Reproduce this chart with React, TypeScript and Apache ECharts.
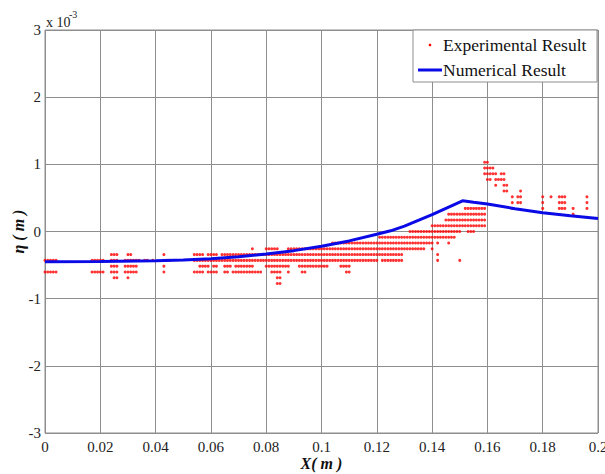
import React, { useEffect, useRef } from "react";
import * as echarts from "echarts";

// x axis (m), y axis in units of 1e-3 m
const xTicks = [0, 0.02, 0.04, 0.06, 0.08, 0.1, 0.12, 0.14, 0.16, 0.18, 0.2];
const yTicks = [-3, -2, -1, 0, 1, 2, 3];

// Numerical result (blue line)
const lineX = [0, 0.02, 0.04, 0.05, 0.06, 0.07, 0.08, 0.09, 0.1, 0.11, 0.12, 0.125, 0.13, 0.135, 0.14, 0.145, 0.151, 0.155, 0.16, 0.17, 0.18, 0.19, 0.2];
const lineY = [-0.45, -0.445, -0.435, -0.425, -0.405, -0.375, -0.335, -0.285, -0.22, -0.14, -0.04, 0.01, 0.08, 0.165, 0.25, 0.345, 0.457, 0.435, 0.41, 0.34, 0.28, 0.235, 0.195];

// Experimental result: rows of dots sampled every 1 mm
// [eta (1e-3 m), x start (mm), x end (mm)]
const expRuns: [number, number, number][] = [
  [1.03, 159, 160],
  [0.945, 159, 162],
  [0.86, 159, 163], [0.86, 165, 166],
  [0.774, 160, 161], [0.774, 163, 166],
  [0.688, 163, 163], [0.688, 166, 167],
  [0.602, 166, 167], [0.602, 172, 172],
  [0.516, 169, 169], [0.516, 171, 172], [0.516, 180, 180], [0.516, 183, 183], [0.516, 186, 188], [0.516, 196, 196],
  [0.43, 169, 169], [0.43, 171, 172], [0.43, 180, 180], [0.43, 186, 188], [0.43, 196, 196],
  [0.344, 152, 159], [0.344, 169, 169], [0.344, 180, 180], [0.344, 186, 188], [0.344, 191, 191], [0.344, 196, 196],
  [0.258, 146, 159], [0.258, 191, 191],
  [0.172, 145, 159],
  [0.086, 140, 159],
  [0, 132, 150], [0, 153, 155],
  [-0.086, 121, 148],
  [-0.172, 104, 140], [-0.172, 142, 142], [-0.172, 146, 146],
  [-0.258, 75, 75], [-0.258, 80, 84], [-0.258, 88, 137], [-0.258, 140, 140],
  [-0.344, 24, 26], [-0.344, 30, 31], [-0.344, 43, 43], [-0.344, 54, 57], [-0.344, 59, 62], [-0.344, 64, 121], [-0.344, 122, 129], [-0.344, 142, 142],
  [-0.43, 0, 4], [-0.43, 17, 21], [-0.43, 24, 26], [-0.43, 29, 34], [-0.43, 36, 36], [-0.43, 37, 37], [-0.43, 39, 39], [-0.43, 43, 45], [-0.43, 54, 120], [-0.43, 122, 127], [-0.43, 128, 129], [-0.43, 142, 142], [-0.43, 150, 150],
  [-0.516, 24, 26], [-0.516, 29, 33], [-0.516, 43, 43], [-0.516, 56, 59], [-0.516, 61, 62], [-0.516, 65, 67], [-0.516, 69, 75], [-0.516, 80, 88], [-0.516, 92, 99], [-0.516, 100, 102], [-0.516, 107, 110],
  [-0.602, 0, 4], [-0.602, 17, 21], [-0.602, 24, 26], [-0.602, 29, 33], [-0.602, 43, 43], [-0.602, 54, 57], [-0.602, 59, 62], [-0.602, 65, 66], [-0.602, 68, 69], [-0.602, 70, 74], [-0.602, 75, 78], [-0.602, 82, 85], [-0.602, 88, 88], [-0.602, 93, 94], [-0.602, 109, 110],
  [-0.688, 25, 26], [-0.688, 30, 30], [-0.688, 84, 85],
  [-0.774, 84, 85],
];

const serif = "'Liberation Serif', 'Times New Roman', serif";

export default function App() {
  const ref = useRef<HTMLDivElement>(null);
  useEffect(() => {
    const chart = echarts.init(ref.current!, null, { renderer: "svg" });
    const expData: number[][] = [];
    expRuns.forEach(([eta, a, b]) => {
      for (let mm = a; mm <= b; mm++) expData.push([mm / 1000, eta]);
    });
    const lineData = lineX.map((x, i) => [x, lineY[i]]);
    const gridColor = "#8e8e8e";
    chart.setOption({
      animation: false,
      backgroundColor: "#ffffff",
      grid: {
        left: 45, top: 30, width: 553, height: 403,
        show: true, borderColor: gridColor, borderWidth: 1,
        containLabel: false, outerBoundsMode: "none",
      },
      xAxis: {
        type: "value", min: 0, max: 0.2, interval: 0.02,
        axisLine: { show: false }, axisTick: { show: false },
        splitLine: { show: true, lineStyle: { color: gridColor, width: 1 } },
        axisLabel: {
          color: "#222", fontFamily: serif, fontSize: 15, margin: 6,
          showMinLabel: true, showMaxLabel: true,
          formatter: (v: number) => String(+v.toFixed(2)),
        },
        name: "X( m )", nameLocation: "middle", nameGap: 22, nameMoveOverlap: false,
        nameTextStyle: { fontFamily: serif, fontSize: 16, fontWeight: "bold", fontStyle: "italic", color: "#111" },
      },
      yAxis: {
        type: "value", min: yTicks[0], max: yTicks[yTicks.length - 1], interval: 1,
        axisLine: { show: false }, axisTick: { show: false },
        splitLine: { show: true, lineStyle: { color: gridColor, width: 1 } },
        axisLabel: {
          color: "#222", fontFamily: serif, fontSize: 15, margin: 4,
          showMinLabel: true, showMaxLabel: true,
        },
        name: "η ( m )", nameLocation: "middle", nameGap: 19, nameRotate: 90, nameMoveOverlap: false,
        nameTextStyle: { fontFamily: serif, fontSize: 16, fontWeight: "bold", fontStyle: "italic", color: "#111" },
      },
      series: [
        {
          name: "Experimental Result", type: "scatter", data: expData,
          symbol: "circle", symbolSize: 3,
          itemStyle: { color: "#ff0000" }, silent: true,
        },
        {
          name: "Numerical Result", type: "line", data: lineData,
          showSymbol: false, smooth: false,
          lineStyle: { color: "#0a0ae6", width: 3 },
        },
      ],
      graphic: [
        { type: "text", left: 46, top: 15, style: { text: "x 10", font: `14px ${serif}`, fill: "#222" } },
        { type: "text", left: 69, top: 9, style: { text: "-3", font: `10px ${serif}`, fill: "#222" } },
        { type: "rect", shape: { x: 413, y: 30, width: 184, height: 52 }, style: { fill: "#fff", stroke: gridColor, lineWidth: 1 }, z: 100 },
        { type: "circle", shape: { cx: 430, cy: 45, r: 1.3 }, style: { fill: "#ff0000" }, z: 101 },
        { type: "text", x: 443, y: 45, style: { text: "Experimental Result", font: `17.5px ${serif}`, fill: "#111", verticalAlign: "middle" }, z: 101 },
        { type: "line", shape: { x1: 418, y1: 70, x2: 442, y2: 70 }, style: { stroke: "#0a0ae6", lineWidth: 3 }, z: 101 },
        { type: "text", x: 443, y: 70, style: { text: "Numerical Result", font: `17.5px ${serif}`, fill: "#111", verticalAlign: "middle" }, z: 101 },
      ],
    });
    return () => chart.dispose();
  }, []);
  return <div ref={ref} style={{ position: "fixed", left: 0, top: 0, width: 605, height: 474 }} />;
}
